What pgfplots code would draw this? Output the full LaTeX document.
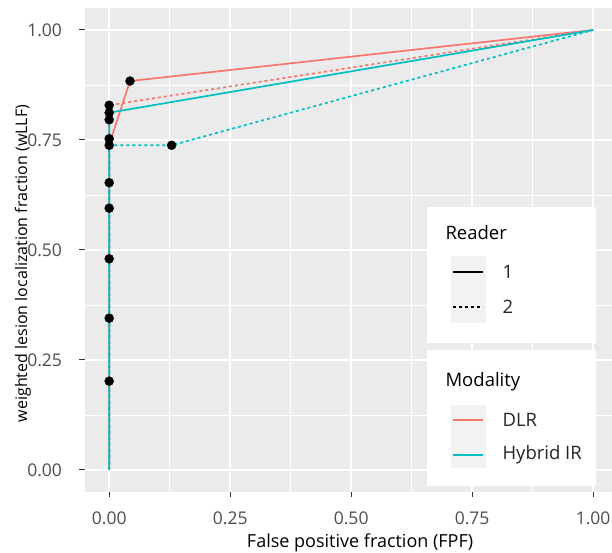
\documentclass[border=0pt]{standalone}
\usepackage{pgfplots}
\pgfplotsset{compat=1.18}
\usepackage{fontspec}
\setmainfont{Open Sans}
\definecolor{panel}{HTML}{EBEBEB}
\definecolor{keybg}{HTML}{F2F2F2}
\definecolor{dlr}{HTML}{F8766D}
\definecolor{hyb}{HTML}{00BFC4}
\definecolor{ticktxt}{HTML}{4D4D4D}
\definecolor{tickmk}{HTML}{333333}
\begin{document}
\begin{tikzpicture}
\path[use as bounding box] (-85pt,-61pt) rectangle (527pt,492pt);
\begin{axis}[
  at={(0pt,0pt)}, anchor=south west,
  scale only axis, width=527pt, height=484pt,
  xmin=-0.05, xmax=1.039, ymin=-0.05, ymax=1.05,
  axis background/.style={fill=panel},
  separate axis lines,
  axis x line*=bottom, axis y line*=left,
  axis line style={draw=none},
  xtick={0,0.25,0.5,0.75,1}, ytick={0,0.25,0.5,0.75,1},
  xticklabels={0.00,0.25,0.50,0.75,1.00},
  yticklabels={0.00,0.25,0.50,0.75,1.00},
  minor xtick={0.125,0.375,0.625,0.875},
  minor ytick={0.125,0.375,0.625,0.875},
  grid=both,
  major grid style={white, line width=1.9pt},
  minor grid style={white, line width=0.95pt},
  tick align=outside, major tick length=5.5pt, minor tick length=0pt,
  major tick style={tickmk, line width=1pt},
  tick label style={font=\fontsize{17.5}{20}\selectfont, text=ticktxt},
  xticklabel style={anchor=base, yshift=-27pt},
  yticklabel style={anchor=east, xshift=-14pt},
  xlabel={False positive fraction (FPF)},
  ylabel={weighted lesion localization fraction (wLLF)},
  xlabel style={font=\fontsize{18}{20}\selectfont, at={(axis description cs:0.522,-0.1054)}, anchor=center},
  ylabel style={font=\fontsize{16}{20}\selectfont, at={(axis description cs:-0.1176,0.472)}, anchor=center},
  clip=false,
]
% DLR, reader 1
\addplot[dlr, line width=1.7pt] coordinates {(0,0)(0,0.740)(0.043,0.884)(1,1)};
% DLR, reader 2
\addplot[dlr, line width=1.7pt, dash pattern=on 3pt off 3pt] coordinates {(0,0)(0,0.829)(1,1)};
% Hybrid IR, reader 1
\addplot[hyb, line width=1.7pt] coordinates {(0,0)(0,0.812)(1,1)};
% Hybrid IR, reader 2
\addplot[hyb, line width=1.7pt, dash pattern=on 3pt off 3pt] coordinates {(0,0)(0,0.738)(0.129,0.738)(1,1)};
% operating points
\addplot[only marks, mark=*, mark size=4.5pt, black] coordinates {
  (0,0.202)(0,0.345)(0,0.480)(0,0.595)(0,0.653)(0,0.738)(0,0.753)
  (0,0.796)(0,0.812)(0,0.829)(0.043,0.884)(0.129,0.738)
};
\end{axis}
% legends
\fill[white] (342pt,149pt) rectangle (511pt,285pt);
\fill[white] (342pt,6pt) rectangle (511pt,142pt);
\fill[keybg] (366pt,169pt) rectangle (401pt,236pt);
\fill[keybg] (366pt,24pt) rectangle (401pt,87pt);
\node[anchor=west, font=\fontsize{18.5}{20}\selectfont] at (357pt,259pt) {Reader};
\node[anchor=west, font=\fontsize{18.5}{20}\selectfont] at (357pt,110pt) {Modality};
\draw[black, line width=1.7pt] (368pt,220pt) -- (398pt,220pt);
\draw[black, line width=1.7pt, dash pattern=on 3pt off 3pt] (368pt,185pt) -- (398pt,185pt);
\draw[dlr, line width=1.7pt] (368pt,72pt) -- (398pt,72pt);
\draw[hyb, line width=1.7pt] (368pt,37pt) -- (398pt,37pt);
\node[anchor=west, font=\fontsize{18.5}{20}\selectfont, text=black!85] at (414pt,220pt) {1};
\node[anchor=west, font=\fontsize{18.5}{20}\selectfont, text=black!85] at (414pt,185pt) {2};
\node[anchor=west, font=\fontsize{18.5}{20}\selectfont, text=black!85] at (414pt,72pt) {DLR};
\node[anchor=west, font=\fontsize{18.5}{20}\selectfont, text=black!85] at (414pt,37pt) {Hybrid IR};
\end{tikzpicture}
\end{document}
